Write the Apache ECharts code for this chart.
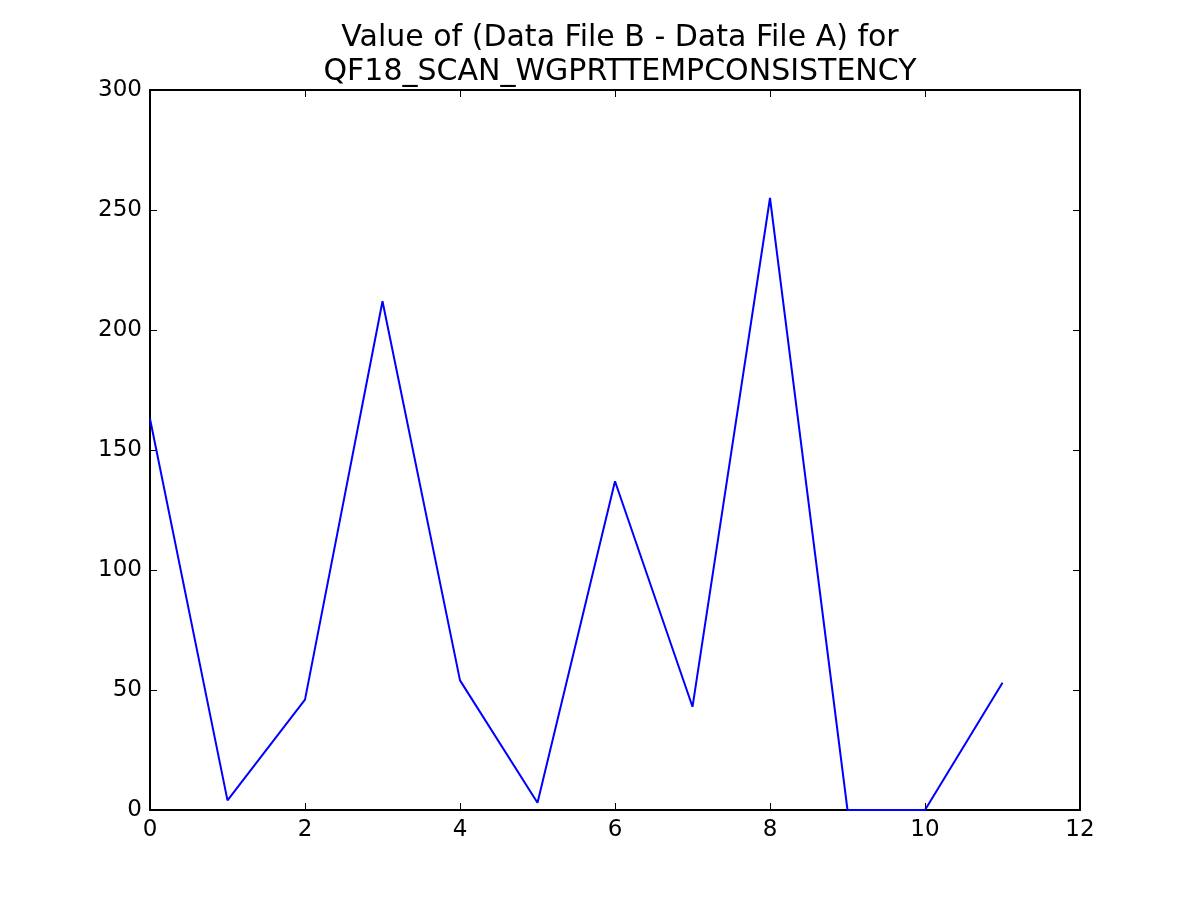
<!DOCTYPE html>
<html><head><meta charset="utf-8">
<script src="https://cdn.jsdelivr.net/npm/echarts@6/dist/echarts.min.js"></script>
<style>html,body{margin:0;padding:0;background:#fff}#c{width:1200px;height:900px}</style>
</head><body><div id="c"></div>
<script>
const xValues = [0, 1, 2, 3, 4, 5, 6, 7, 8, 9, 10, 11];
const yValues = [163, 4, 46, 212, 54, 3, 137, 43, 255, 0, 0, 53];
const titleLines = ["Value of (Data File B - Data File A) for", "QF18_SCAN_WGPRTTEMPCONSISTENCY"];

const font = "DejaVu Sans";
const chart = echarts.init(document.getElementById('c'));
const axisCommon = {
  axisLine: {show: true, onZero: false, lineStyle: {color: '#000', width: 2}},
  axisTick: {show: true, inside: true, length: 7, lineStyle: {color: '#000', width: 1}},
  splitLine: {show: false}
};
chart.setOption({
  animation: false,
  backgroundColor: '#fff',
  title: {
    text: titleLines.join('\n'),
    left: 615, top: 16, textAlign: 'center',
    textStyle: {fontFamily: font, fontSize: 30, fontWeight: 'normal', color: '#000', lineHeight: 34}
  },
  grid: {left: 150, right: 120, top: 90, bottom: 90, containLabel: false},
  xAxis: [
    Object.assign({type: 'value', min: 0, max: 12, interval: 2, position: 'bottom',
      axisLabel: {fontFamily: font, fontSize: 23, color: '#000', margin: 9}}, axisCommon),
    Object.assign({type: 'value', min: 0, max: 12, interval: 2, position: 'top',
      axisLabel: {show: false}}, axisCommon)
  ],
  yAxis: [
    Object.assign({type: 'value', min: 0, max: 300, interval: 50, position: 'left',
      axisLabel: {fontFamily: font, fontSize: 23, color: '#000', margin: 8}}, axisCommon),
    Object.assign({type: 'value', min: 0, max: 300, interval: 50, position: 'right',
      axisLabel: {show: false}}, axisCommon)
  ],
  series: [{
    type: 'line',
    data: xValues.map((x, i) => [x, yValues[i]]),
    showSymbol: false,
    lineStyle: {color: '#0000ff', width: 2},
    itemStyle: {color: '#0000ff'},
    clip: false
  }]
});
</script></body></html>
